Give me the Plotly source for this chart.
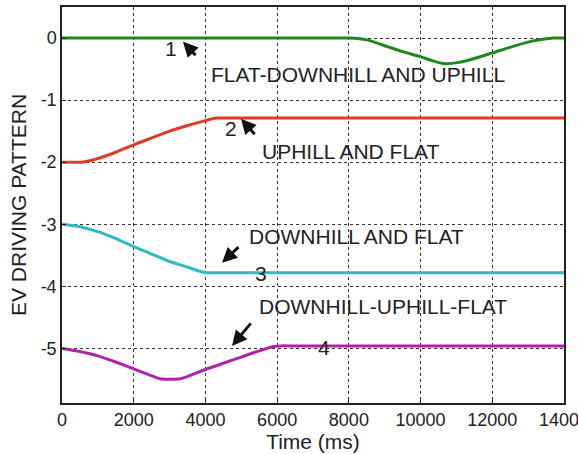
import plotly.graph_objects as go

# ---- data ----
green_t = [0, 7500, 8000, 8500, 9060, 9500, 10000, 10300, 10630, 11000, 11500, 12000, 12600, 13100, 13700, 14000]
green_v = [0, 0, 0, -0.03, -0.135, -0.22, -0.30, -0.36, -0.41, -0.40, -0.33, -0.24, -0.13, -0.05, 0.0, 0.0]

red_t = [0, 300, 550, 1000, 1500, 2000, 2500, 3000, 3500, 4000, 4300, 4700, 14000]
red_v = [-2.0, -2.0, -2.0, -1.94, -1.84, -1.72, -1.61, -1.50, -1.41, -1.33, -1.29, -1.29, -1.29]

cyan_t = [0, 500, 1000, 1500, 2000, 2500, 3000, 3500, 3800, 4000, 4400, 14000]
cyan_v = [-3.0, -3.04, -3.12, -3.23, -3.36, -3.48, -3.60, -3.69, -3.75, -3.78, -3.78, -3.78]

mag_t = [0, 500, 1000, 1500, 2000, 2400, 2730, 3300, 3600, 4000, 4500, 5000, 5500, 5900, 6100, 6500, 14000]
mag_v = [-5.0, -5.05, -5.12, -5.22, -5.33, -5.42, -5.49, -5.49, -5.43, -5.34, -5.24, -5.14, -5.04, -4.97, -4.96, -4.96, -4.96]

x_ticks = [0, 2000, 4000, 6000, 8000, 10000, 12000, 14000]
y_ticks = [0, -1, -2, -3, -4, -5]

FONT = "Liberation Sans, Arial, sans-serif"

fig = go.Figure()
for t, v, c in [(green_t, green_v, "#1b8a1b"), (red_t, red_v, "#e23a25"),
                (cyan_t, cyan_v, "#2dbdbd"), (mag_t, mag_v, "#b023a6")]:
    fig.add_trace(go.Scatter(x=t, y=v, mode="lines",
                             line=dict(color=c, width=3, shape="spline", smoothing=0.6),
                             showlegend=False))

ann = []
def txt(x, y, s):
    ann.append(dict(x=x, y=y, text=s, showarrow=False, font=dict(size=21, color="#222", family=FONT),
                    xanchor="center", yanchor="middle"))
def arrow(x, y, ax, ay):
    ann.append(dict(x=x, y=y, text="", showarrow=True, arrowhead=2, arrowsize=1.0, arrowwidth=3,
                    arrowcolor="#111", ax=ax, ay=ay))

txt(3040, -0.17, "1")
txt(8255, -0.58, "FLAT-DOWNHILL AND UPHILL")
txt(4713, -1.45, "2")
txt(8060, -1.83, "UPHILL AND FLAT")
txt(8200, -3.19, "DOWNHILL AND FLAT")
txt(5550, -3.79, "3")
txt(8950, -4.33, "DOWNHILL-UPHILL-FLAT")
txt(7305, -4.98, "4")
arrow(3374, -0.06, 14, 15)
arrow(4992, -1.30, 15, 17)
arrow(4462, -3.62, 18, -17)
arrow(4741, -4.96, 20, -24)

fig.update_layout(
    width=578, height=454,
    margin=dict(l=62, r=14, t=7, b=51),
    plot_bgcolor="white", paper_bgcolor="white",
    font=dict(family=FONT, size=18, color="#222"),
    annotations=ann,
    xaxis=dict(range=[0, 14000], tickvals=x_ticks, ticktext=[str(v) for v in x_ticks],
               showgrid=True, gridcolor="#333", griddash="dot", gridwidth=1,
               showline=True, linecolor="#222", linewidth=1.5, mirror=True,
               ticks="inside", ticklen=4, tickcolor="#222", zeroline=False, automargin=False,
               ticklabeloverflow="allow",
               title=dict(text="Time (ms)", font=dict(size=21), standoff=2),
               tickfont=dict(size=18)),
    yaxis=dict(range=[-5.88, 0.5], tickvals=y_ticks, ticktext=[str(v) for v in y_ticks],
               showgrid=True, gridcolor="#333", griddash="dot", gridwidth=1,
               showline=True, linecolor="#222", linewidth=1.5, mirror=True,
               ticks="inside", ticklen=4, tickcolor="#222", zeroline=False, automargin=False,
               title=dict(text="EV DRIVING PATTERN", font=dict(size=21), standoff=8),
               tickfont=dict(size=18)),
)
fig.write_html("out.html", config={"displayModeBar": False},
               post_script="document.body.style.margin='0px';")
